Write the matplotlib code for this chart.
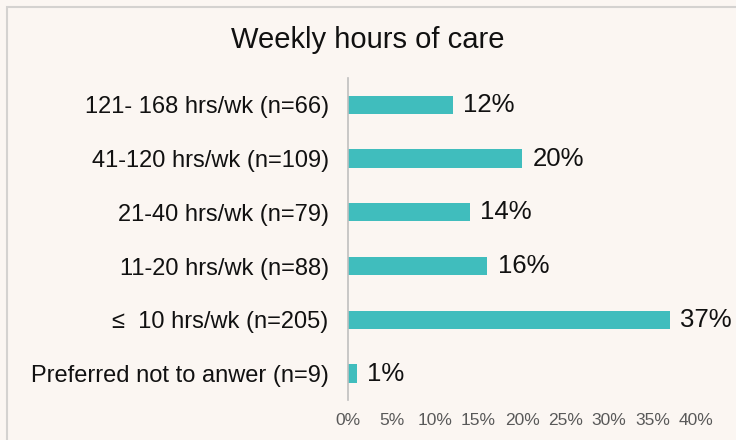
import matplotlib.pyplot as plt
from matplotlib.patches import Rectangle

# categories, bottom to top
categories = ['Preferred not to anwer (n=9)', '≤  10 hrs/wk (n=205)', '11-20 hrs/wk (n=88)',
              '21-40 hrs/wk (n=79)', '41-120 hrs/wk (n=109)', '121- 168 hrs/wk (n=66)']
percents = [1, 37, 16, 14, 20, 12]
xticks = [0, 5, 10, 15, 20, 25, 30, 35, 40]

BG = '#fbf6f2'
BAR = '#40bdbd'

plt.rcParams['font.family'] = ['Liberation Sans', 'DejaVu Sans']

fig = plt.figure(figsize=(7.36, 4.4), dpi=100, facecolor=BG)
# thin frame round the chart area
fig.patches.append(Rectangle((0.01, -0.02), 1.05, 1.005, transform=fig.transFigure,
                             fill=False, edgecolor='#d4d2d0', linewidth=1.5))

ax = fig.add_axes([0.473, 0.09, 0.4727, 0.733], facecolor=BG)
y = list(range(len(categories)))
ax.barh(y, percents, height=0.34, color=BAR)

for yi, p in zip(y, percents):
    ax.text(p + 1.2, yi, f'{p}%', va='center', ha='left', fontsize=18.5, color='#111111')

ax.set_xlim(0, 40)
ax.set_ylim(-0.5, len(categories) - 0.5)
ax.set_xticks(xticks)
ax.set_xticklabels([f'{t}%' for t in xticks], fontsize=12.5, color='#595959')
ax.set_yticks(y)
ax.set_yticklabels(categories, fontsize=17, color='#111111')
ax.tick_params(axis='both', length=0)
ax.tick_params(axis='y', pad=14)
ax.tick_params(axis='x', pad=9)

for s in ['top', 'right', 'bottom']:
    ax.spines[s].set_visible(False)
ax.spines['left'].set_color('#bfbfbf')
ax.spines['left'].set_linewidth(1.2)

fig.text(0.5, 0.91, 'Weekly hours of care', ha='center', va='center',
         fontsize=21, color='#111111')

fig.savefig('out.png', dpi=100, facecolor=BG)
